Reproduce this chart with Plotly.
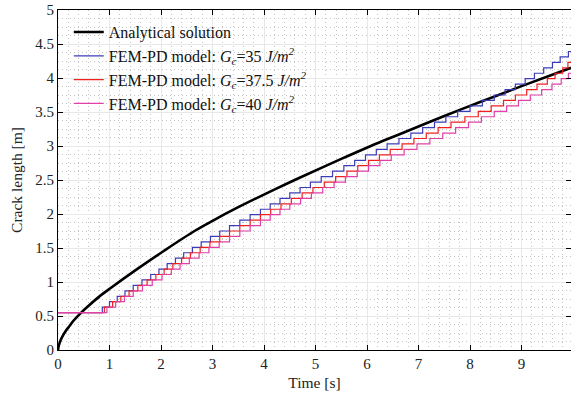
import plotly.graph_objects as go

# Analytical solution
t_analytical = [0, 0.01, 0.03, 0.06, 0.1, 0.15, 0.22, 0.3, 0.45, 0.6, 0.8, 1.03, 1.5, 2.06,
                2.65, 3.0, 3.5, 4.23, 4.68, 5.5, 6.29, 6.62, 7.5, 8.17, 9.0, 9.96]
a_analytical = [0, 0.05, 0.1, 0.16, 0.22, 0.28, 0.35, 0.43, 0.55, 0.655, 0.785, 0.915, 1.17, 1.46,
                1.75, 1.9, 2.1, 2.37, 2.53, 2.81, 3.07, 3.17, 3.44, 3.64, 3.88, 4.15]

# FEM-PD, Gc = 35
t_gc35 = [0, 0.86, 1.00, 1.15, 1.30, 1.46, 1.63, 1.80, 1.96, 2.12, 2.28, 2.44, 2.61, 2.78, 2.96,
          3.14, 3.33, 3.53, 3.73, 3.93, 4.12, 4.31, 4.50, 4.70, 4.90, 5.11, 5.33, 5.55, 5.76,
          5.97, 6.18, 6.39, 6.62, 6.85, 7.08, 7.31, 7.53, 7.76, 8.00, 8.24, 8.47, 8.68, 8.88,
          9.07, 9.25, 9.43, 9.60, 9.75, 9.91, 9.96]
a_gc35 = [0.55, 0.63, 0.71, 0.79, 0.87, 0.95, 1.03, 1.11, 1.19, 1.27, 1.35, 1.43, 1.51, 1.59,
          1.67, 1.75, 1.83, 1.91, 1.99, 2.07, 2.15, 2.23, 2.31, 2.39, 2.47, 2.55, 2.63, 2.71,
          2.79, 2.87, 2.95, 3.03, 3.11, 3.19, 3.27, 3.35, 3.43, 3.51, 3.59, 3.67, 3.75, 3.83,
          3.91, 3.99, 4.07, 4.15, 4.23, 4.31, 4.39, 4.39]

# FEM-PD, Gc = 37.5
t_gc375 = [0, 0.90, 1.06, 1.22, 1.38, 1.55, 1.73, 1.90, 2.06, 2.23, 2.40, 2.57, 2.76, 2.95,
           3.14, 3.33, 3.53, 3.73, 3.93, 4.13, 4.33, 4.53, 4.74, 4.95, 5.17, 5.39, 5.61, 5.82,
           6.03, 6.24, 6.45, 6.68, 6.91, 7.15, 7.38, 7.63, 7.90, 8.16, 8.41, 8.65, 8.88, 9.10,
           9.30, 9.50, 9.65, 9.80, 9.90, 9.96]
a_gc375 = [0.55, 0.63, 0.71, 0.79, 0.87, 0.95, 1.03, 1.11, 1.19, 1.27, 1.35, 1.43, 1.51, 1.59,
           1.67, 1.75, 1.83, 1.91, 1.99, 2.07, 2.15, 2.23, 2.31, 2.39, 2.47, 2.55, 2.63, 2.71,
           2.79, 2.87, 2.95, 3.03, 3.11, 3.19, 3.27, 3.35, 3.43, 3.51, 3.59, 3.67, 3.75, 3.83,
           3.91, 3.99, 4.07, 4.15, 4.23, 4.23]

# FEM-PD, Gc = 40
t_gc40 = [0, 0.95, 1.12, 1.29, 1.46, 1.64, 1.83, 2.02, 2.20, 2.37, 2.55, 2.74, 2.93, 3.13,
          3.33, 3.53, 3.73, 3.93, 4.12, 4.31, 4.50, 4.71, 4.92, 5.14, 5.36, 5.58, 5.81, 6.03,
          6.25, 6.47, 6.72, 6.97, 7.22, 7.47, 7.72, 7.97, 8.22, 8.47, 8.71, 8.94, 9.17, 9.39,
          9.59, 9.77, 9.91, 9.96]
a_gc40 = [0.55, 0.63, 0.71, 0.79, 0.87, 0.95, 1.03, 1.11, 1.19, 1.27, 1.35, 1.43, 1.51, 1.59,
          1.67, 1.75, 1.83, 1.91, 1.99, 2.07, 2.15, 2.23, 2.31, 2.39, 2.47, 2.55, 2.63, 2.71,
          2.79, 2.87, 2.95, 3.03, 3.11, 3.19, 3.27, 3.35, 3.43, 3.51, 3.59, 3.67, 3.75, 3.83,
          3.91, 3.99, 4.07, 4.07]

x_ticks = [0, 1, 2, 3, 4, 5, 6, 7, 8, 9]
y_ticks = [0, 0.5, 1, 1.5, 2, 2.5, 3, 3.5, 4, 4.5, 5]
y_ticklabels = ["0", "0.5", "1", "1.5", "2", "2.5", "3", "3.5", "4", "4.5", "5"]

FONT = "Liberation Serif, Times New Roman, serif"

fig = go.Figure()
fig.add_trace(go.Scatter(x=t_analytical, y=a_analytical, mode="lines",
                         line=dict(color="black", width=2.6, shape="spline", smoothing=1.0),
                         name="Analytical solution"))
fig.add_trace(go.Scatter(x=t_gc35, y=a_gc35, mode="lines",
                         line=dict(color="#3c3cb8", width=1.2, shape="hv"),
                         name="FEM-PD model: <i>G<sub>c</sub></i>=35 <i>J/m<sup>2</sup></i>"))
fig.add_trace(go.Scatter(x=t_gc375, y=a_gc375, mode="lines",
                         line=dict(color="#f02020", width=1.2, shape="hv"),
                         name="FEM-PD model: <i>G<sub>c</sub></i>=37.5 <i>J/m<sup>2</sup></i>"))
fig.add_trace(go.Scatter(x=t_gc40, y=a_gc40, mode="lines",
                         line=dict(color="#e040a8", width=1.2, shape="hv"),
                         name="FEM-PD model: <i>G<sub>c</sub></i>=40 <i>J/m<sup>2</sup></i>"))

axis_common = dict(
    showline=True, linecolor="black", linewidth=1, mirror="ticks",
    ticks="inside", ticklen=5, tickcolor="black", tickwidth=1,
    showgrid=True, gridcolor="#e8e8e8", gridwidth=1,
    zeroline=False,
    tickfont=dict(family=FONT, size=15, color="#222"),
)

fig.update_xaxes(range=[0, 9.96], tickvals=x_ticks, ticktext=[str(v) for v in x_ticks],
                 title=dict(text="Time [s]", font=dict(family=FONT, size=15.5, color="#222"), standoff=6),
                 minor=dict(dtick=0.2, showgrid=True, griddash="1px,3px", gridcolor="#c4c4c4", gridwidth=1, ticks=""),
                 **axis_common)
fig.update_yaxes(range=[0, 5], tickvals=y_ticks, ticktext=y_ticklabels,
                 title=dict(text="Crack length [m]", font=dict(family=FONT, size=15.5, color="#222"), standoff=8),
                 minor=dict(dtick=0.125, showgrid=True, griddash="1px,3px", gridcolor="#c4c4c4", gridwidth=1, ticks=""),
                 **axis_common)

fig.update_layout(
    width=571, height=398,
    margin=dict(l=58, r=0, t=10, b=48, autoexpand=False),
    plot_bgcolor="white", paper_bgcolor="white",
    font=dict(family=FONT, size=15, color="#222"),
    showlegend=True,
    legend=dict(x=0.021, y=0.985, xanchor="left", yanchor="top",
                bgcolor="rgba(0,0,0,0)", borderwidth=0,
                font=dict(family=FONT, size=16, color="#111"),
                tracegroupgap=0),
)

fig.write_html("out.html", config={"displayModeBar": False},
               post_script="document.body.style.margin='0';document.body.style.overflow='hidden';")
